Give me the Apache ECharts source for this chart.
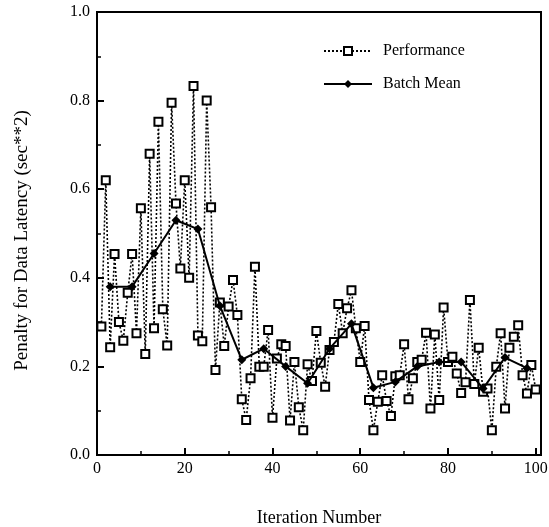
<!DOCTYPE html>
<html>
<head>
<meta charset="utf-8">
<script src="https://cdn.jsdelivr.net/npm/echarts@6/dist/echarts.min.js"></script>
<style>html,body{margin:0;padding:0;background:#fff;}#c{width:549px;height:527px;}</style>
</head>
<body>
<div id="c"></div>
<script>
// Performance penalty per iteration (iterations 1..100)
var performance = [
  0.29, 0.62, 0.243, 0.454, 0.30, 0.258, 0.366, 0.454, 0.275, 0.557,
  0.228, 0.68, 0.286, 0.752, 0.329, 0.247, 0.795, 0.568, 0.421, 0.62,
  0.40, 0.833, 0.27, 0.257, 0.80, 0.559, 0.192, 0.344, 0.246, 0.335,
  0.395, 0.316, 0.126, 0.079, 0.173, 0.425, 0.199, 0.199, 0.282, 0.084,
  0.218, 0.25, 0.246, 0.078, 0.21, 0.108, 0.056, 0.205, 0.167, 0.28,
  0.208, 0.154, 0.237, 0.255, 0.341, 0.275, 0.331, 0.372, 0.286, 0.21,
  0.291, 0.124, 0.056, 0.12, 0.18, 0.122, 0.088, 0.178, 0.18, 0.25,
  0.126, 0.173, 0.21, 0.215, 0.276, 0.105, 0.272, 0.124, 0.333, 0.21,
  0.222, 0.184, 0.14, 0.164, 0.35, 0.16, 0.242, 0.143, 0.15, 0.056,
  0.199, 0.275, 0.105, 0.242, 0.267, 0.293, 0.18, 0.139, 0.203, 0.148
];
// Batch means (batches of 5 iterations, plotted at batch centre)
var batchX = [3, 8, 13, 18, 23, 28, 33, 38, 43, 48, 53, 58, 63, 68, 73, 78, 83, 88, 93, 98];
var batchMean = [0.38, 0.38, 0.455, 0.53, 0.51, 0.337, 0.215, 0.24, 0.20, 0.162,
                 0.24, 0.296, 0.152, 0.165, 0.20, 0.21, 0.21, 0.15, 0.22, 0.196];
var xTickLabels = ['0', '20', '40', '60', '80', '100'];
var yTickLabels = ['0.0', '0.2', '0.4', '0.6', '0.8', '1.0'];

var perfData = performance.map(function (v, i) { return [i + 1, v]; });
var meanData = batchMean.map(function (v, i) { return [batchX[i], v]; });

var font = 'Liberation Serif';
var chart = echarts.init(document.getElementById('c'), null, {renderer: 'canvas'});
chart.setOption({
  animation: false,
  backgroundColor: '#fff',
  grid: {left: 97, right: 8, top: 12, bottom: 72, containLabel: false, outerBoundsMode: 'none',
         show: true, borderColor: '#000', borderWidth: 2, backgroundColor: 'transparent'},
  legend: {
    orient: 'vertical', left: 318, top: 38, itemWidth: 48, itemHeight: 10, itemGap: 17,
    textStyle: {fontFamily: font, fontSize: 16, color: '#000', padding: [0, 0, 0, 6]},
    data: ['Performance', 'Batch Mean']
  },
  xAxis: {
    type: 'value', min: 0, max: 101.2, interval: 20,
    name: 'Iteration Number', nameLocation: 'middle', nameGap: 54,
    nameTextStyle: {fontFamily: font, fontSize: 18, color: '#000'},
    axisLine: {show: true, lineStyle: {color: '#000', width: 2}},
    axisTick: {show: true, inside: true, length: 7, lineStyle: {color: '#000', width: 2}},
    minorTick: {show: true, splitNumber: 2, length: 4, lineStyle: {color: '#000', width: 1.5}},
    splitLine: {show: false},
    axisLabel: {fontFamily: font, fontSize: 16, color: '#000', margin: 6,
      formatter: function (v) { var i = xTickLabels.indexOf(String(v)); return i >= 0 ? xTickLabels[i] : ''; }}
  },
  yAxis: {
    type: 'value', min: 0, max: 1, interval: 0.2,
    name: 'Penalty for Data Latency (sec**2)', nameLocation: 'middle', nameGap: 65,
    nameTextStyle: {fontFamily: font, fontSize: 19, color: '#000', padding: [0, 14, 0, 0]},
    axisLine: {show: true, lineStyle: {color: '#000', width: 2}},
    axisTick: {show: true, inside: true, length: 7, lineStyle: {color: '#000', width: 2}},
    minorTick: {show: true, splitNumber: 2, length: 4, lineStyle: {color: '#000', width: 1.5}},
    splitLine: {show: false},
    axisLabel: {fontFamily: font, fontSize: 16, color: '#000', margin: 7,
      formatter: function (v) { return yTickLabels[Math.round(v * 5)]; }}
  },
  series: [
    {
      name: 'Performance', type: 'line', data: perfData,
      symbol: 'rect', symbolSize: 8, showAllSymbol: true,
      lineStyle: {color: '#000', width: 1.6, type: [2, 2]},
      itemStyle: {color: '#fff', borderColor: '#000', borderWidth: 2},
      z: 2
    },
    {
      name: 'Batch Mean', type: 'line', data: meanData,
      symbol: 'diamond', symbolSize: 9,
      lineStyle: {color: '#000', width: 2},
      itemStyle: {color: '#000'},
      z: 3
    }
  ]
});
</script>
</body>
</html>
